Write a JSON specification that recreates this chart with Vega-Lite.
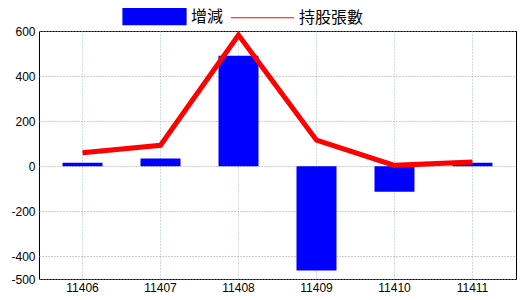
{
  "$schema": "https://vega.github.io/schema/vega-lite/v6.json",
  "width": 477,
  "height": 248,
  "autosize": {"type": "none"},
  "padding": {"left": 39, "top": 31, "right": 4, "bottom": 21},
  "background": "white",
  "config": {
    "view": {"stroke": "#000000", "strokeWidth": 1},
    "font": "Liberation Sans"
  },
  "data": {
    "values": [
      {"month": "11406", "change": 16, "holding": 60},
      {"month": "11407", "change": 35, "holding": 93},
      {"month": "11408", "change": 490, "holding": 582},
      {"month": "11409", "change": -462, "holding": 116},
      {"month": "11410", "change": -113, "holding": 4},
      {"month": "11411", "change": 16, "holding": 19}
    ]
  },
  "encoding": {
    "x": {
      "field": "month",
      "type": "nominal",
      "sort": null,
      "scale": {"type": "band", "paddingInner": 0, "paddingOuter": 0.058},
      "axis": {
        "title": null,
        "bandPosition": 0.5,
        "domain": false,
        "ticks": false,
        "labelAngle": 0,
        "labelFont": "Liberation Sans",
        "labelFontSize": 12,
        "labelColor": "#000000",
        "labelPadding": 3,
        "grid": true,
        "gridColor": "#9fb6c6",
        "gridDash": [1, 2],
        "gridWidth": 1
      }
    }
  },
  "layer": [
    {
      "mark": {"type": "bar", "width": 40},
      "encoding": {
        "y": {
          "field": "change",
          "type": "quantitative",
          "scale": {"domain": [-500, 600], "nice": false, "zero": false},
          "axis": {
            "title": null,
            "values": [600, 400, 200, 0, -200, -400, -500],
            "labelExpr": "datum.value < 0 ? '-' + abs(datum.value) : '' + datum.value",
            "domain": false,
            "ticks": false,
            "labelFont": "Liberation Sans",
            "labelFontSize": 12,
            "labelColor": "#000000",
            "labelPadding": 4,
            "grid": true,
            "gridColor": "#999999",
            "gridDash": [1, 2],
            "gridWidth": 1
          }
        },
        "color": {
          "datum": "增減",
          "scale": {"domain": ["增減", "持股張數"], "range": ["#0000ff", "#ff0000"]},
          "legend": {
            "title": null,
            "orient": "none",
            "direction": "horizontal",
            "legendX": 83,
            "legendY": -47,
            "symbolSize": 3969,
            "labelFont": "Noto Sans CJK TC",
            "labelFontSize": 16,
            "labelColor": "#000000",
            "labelOffset": 4,
            "columnPadding": 4,
            "encode": {
              "symbols": {
                "update": {
                  "shape": {"signal": "datum.value === '增減' ? 'M-1,-0.254H1V0.254H-1Z' : 'M-1,0H1'"},
                  "fill": {"signal": "datum.value === '增減' ? '#0000ff' : 'transparent'"},
                  "stroke": {"signal": "datum.value === '增減' ? 'transparent' : '#ff0000'"},
                  "strokeWidth": {"value": 1.2},
                  "opacity": {"value": 1},
                  "fillOpacity": {"value": 1}
                }
              }
            }
          }
        }
      }
    },
    {
      "mark": {"type": "rule", "color": "#000000", "strokeWidth": 1},
      "encoding": {"y": {"datum": 0}}
    },
    {
      "mark": {"type": "line", "strokeWidth": 5, "strokeJoin": "miter"},
      "encoding": {
        "y": {"field": "holding", "type": "quantitative"},
        "color": {"datum": "持股張數"}
      }
    }
  ]
}
